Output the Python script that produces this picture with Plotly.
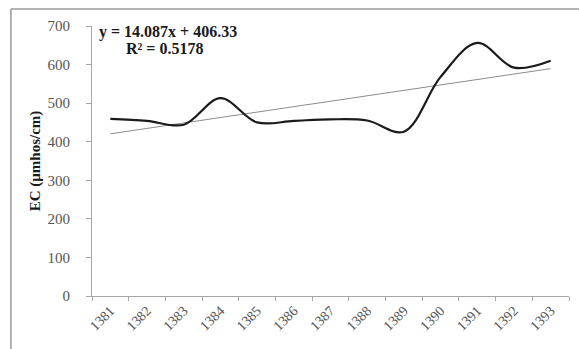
import plotly.graph_objects as go

years = ["1381", "1382", "1383", "1384", "1385", "1386", "1387",
         "1388", "1389", "1390", "1391", "1392", "1393"]
ec = [459, 454, 444, 513, 450, 454, 458, 455, 426, 568, 656, 592, 610]
slope = 14.087
intercept = 406.33
r2 = 0.5178
y_ticks = [0, 100, 200, 300, 400, 500, 600, 700]

trend = [slope * (i + 1) + intercept for i in range(len(years))]

fig = go.Figure()
fig.add_trace(go.Scatter(
    x=years, y=trend, mode="lines",
    line=dict(color="#8c8c8c", width=1), showlegend=False, hoverinfo="skip"))
fig.add_trace(go.Scatter(
    x=years, y=ec, mode="lines",
    line=dict(color="#1a1a1a", width=2.2, shape="spline", smoothing=1.0),
    showlegend=False))

fig.update_layout(
    width=579, height=349,
    margin=dict(l=92, r=10, t=26, b=53),
    paper_bgcolor="white", plot_bgcolor="white",
    font=dict(family="Liberation Serif", size=14, color="#555555"),
    xaxis=dict(
        type="category", showgrid=False, showline=True, linecolor="#a6a6a6",
        linewidth=1, ticks="outside", ticklen=4, tickcolor="#a6a6a6",
        tickson="boundaries", tickangle=-45, automargin=False,
        tickfont=dict(family="Liberation Serif", size=14, color="#555555"),
        range=[-0.5, len(years) - 0.5]),
    yaxis=dict(
        range=[0, 700], tickvals=y_ticks, showgrid=False, showline=True,
        linecolor="#a6a6a6", linewidth=1, ticks="outside", ticklen=5,
        tickcolor="#a6a6a6", zeroline=False, ticklabelstandoff=13, automargin=False,
        tickfont=dict(family="Liberation Serif", size=15, color="#555555"),
        title=dict(text="<b>EC (µmhos/cm)</b>", standoff=3,
                   font=dict(family="Liberation Serif", size=15, color="#1a1a1a"))),
    annotations=[
        dict(xref="paper", yref="paper", x=0.011, y=0.979, xanchor="left", yanchor="middle",
             text="<b>y = %.3fx + %.2f</b>" % (slope, intercept), showarrow=False,
             font=dict(family="Liberation Serif", size=16, color="#1a1a1a")),
        dict(xref="paper", yref="paper", x=0.067, y=0.916, xanchor="left", yanchor="middle",
             text="<b>R² = %.4f</b>" % r2, showarrow=False,
             font=dict(family="Liberation Serif", size=16, color="#1a1a1a")),
    ],
    shapes=[
        dict(type="line", xref="paper", yref="paper", x0=-0.170, y0=-0.3, x1=-0.170, y1=1.063,
             line=dict(color="#9a9a9a", width=1.5)),
        dict(type="line", xref="paper", yref="paper", x0=-0.170, y0=1.063, x1=1.03, y1=1.063,
             line=dict(color="#9a9a9a", width=1.5)),
    ],
)

fig.write_html("out.html", config={"displayModeBar": False},
               post_script="document.body.style.margin='0';")
